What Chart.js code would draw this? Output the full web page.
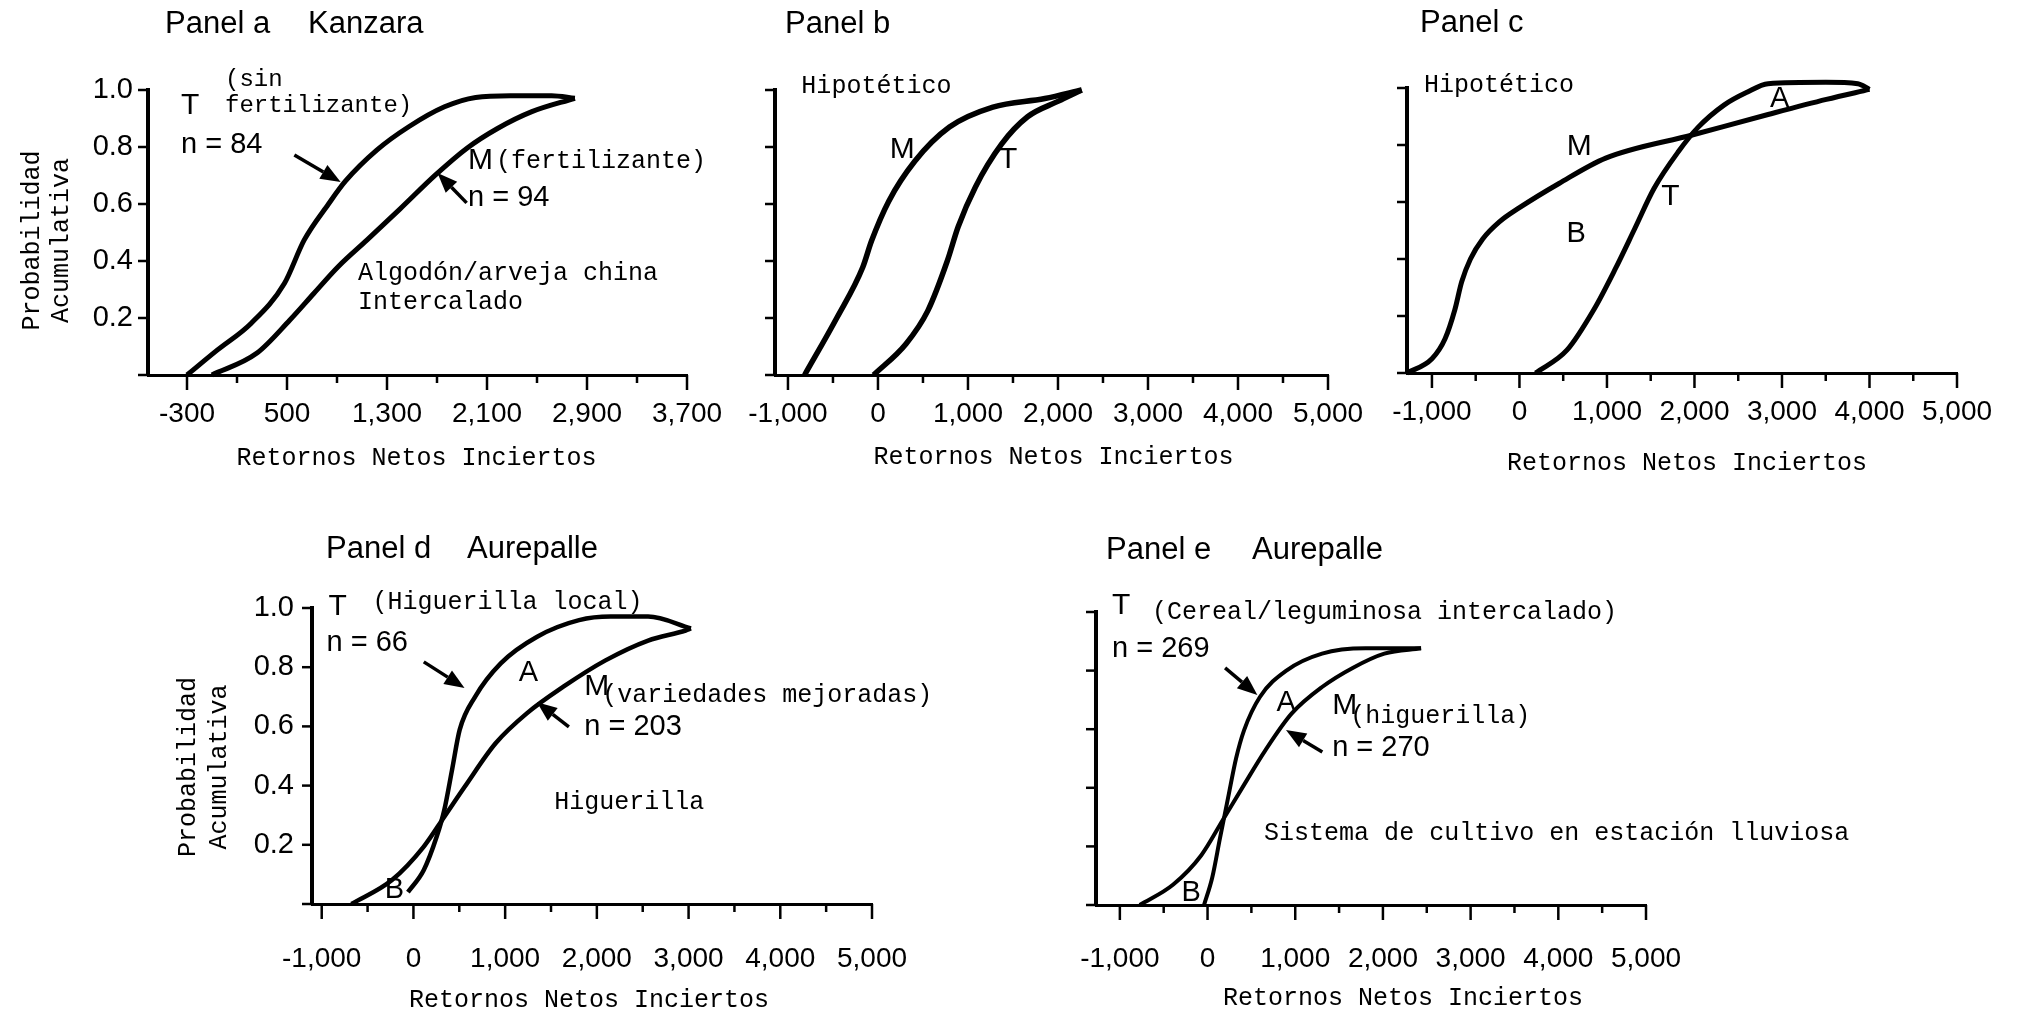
<!DOCTYPE html>
<html><head><meta charset="utf-8">
<script src="https://cdn.jsdelivr.net/npm/chart.js@4.4.1/dist/chart.umd.min.js"></script>
<style>
html,body{margin:0;padding:0;background:#fff;width:2031px;height:1012px;overflow:hidden}
canvas{position:absolute;left:0;top:0}
</style></head><body>
<canvas id="ca" width="2031" height="1012"></canvas>
<canvas id="cb" width="2031" height="1012"></canvas>
<canvas id="cc" width="2031" height="1012"></canvas>
<canvas id="cd" width="2031" height="1012"></canvas>
<canvas id="ce" width="2031" height="1012"></canvas>
<script>
// ---------- DATA ----------
const xAxisTitle = 'Retornos Netos Inciertos';
const yAxisTitle = ['Probabilidad', 'Acumulativa'];

const aXTicks = [-300, 100, 500, 900, 1300, 1700, 2100, 2500, 2900, 3300, 3700];
const aXLabels = ['-300', '', '500', '', '1,300', '', '2,100', '', '2,900', '', '3,700'];
const kXTicks = [-1000, -500, 0, 500, 1000, 1500, 2000, 2500, 3000, 3500, 4000, 4500, 5000];
const kXLabels = ['-1,000', '', '0', '', '1,000', '', '2,000', '', '3,000', '', '4,000', '', '5,000'];
const yTicks = [0, 0.2, 0.4, 0.6, 0.8, 1.0];
const yLabels = ['', '0.2', '0.4', '0.6', '0.8', '1.0'];
const yNoLabels = ['', '', '', '', '', ''];

// Panel a  Kanzara
const aT_x = [-300, -56, 212, 480, 638, 832, 967, 1218, 1474, 1760, 2009, 2287, 2617, 2803];
const aT_p = [0, 0.088, 0.181, 0.322, 0.474, 0.600, 0.680, 0.789, 0.871, 0.941, 0.974, 0.98, 0.98, 0.971];
const aM_x = [-101, 257, 523, 716, 909, 1141, 1403, 1688, 1937, 2184, 2459, 2803];
const aM_p = [0, 0.076, 0.193, 0.287, 0.38, 0.474, 0.582, 0.702, 0.795, 0.865, 0.924, 0.971];
// Panel b  Hipotético
const bM_x = [-815, -458, -169, -72, 120, 409, 794, 1277, 1854, 2264];
const bM_p = [0, 0.20, 0.378, 0.47, 0.61, 0.75, 0.87, 0.94, 0.97, 1.0];
const bT_x = [-49, 313, 553, 770, 891, 1083, 1373, 1662, 1999, 2264];
const bT_p = [0, 0.11, 0.225, 0.40, 0.52, 0.66, 0.81, 0.906, 0.96, 1.0];
// Panel c  Hipotético
const cM_x = [-1285, -1000, -850, -740, -660, -560, -420, -230, 0, 452, 986, 1984, 2841, 3507, 4000];
const cM_p = [0, 0.05, 0.12, 0.22, 0.32, 0.40, 0.47, 0.53, 0.58, 0.665, 0.754, 0.836, 0.907, 0.96, 0.995];
const cT_x = [184, 542, 853, 1095, 1317, 1539, 1817, 2035, 2337, 2600, 2841, 3500, 3867, 4000];
const cT_p = [0, 0.08, 0.224, 0.365, 0.506, 0.648, 0.777, 0.86, 0.94, 0.985, 1.015, 1.02, 1.015, 0.995];
// Panel d  Aurepalle
const dT_x = [-60, 113, 253, 337, 421, 504, 672, 952, 1349, 1806, 2150, 2559, 3026];
const dT_p = [0.04, 0.115, 0.227, 0.318, 0.453, 0.588, 0.70, 0.813, 0.903, 0.959, 0.971, 0.971, 0.931];
const dM_x = [-676, -234, 113, 337, 561, 896, 1236, 1635, 2094, 2559, 2968, 3026];
const dM_p = [0, 0.081, 0.194, 0.295, 0.397, 0.543, 0.644, 0.734, 0.823, 0.89, 0.924, 0.931];
// Panel e  Aurepalle
const eT_x = [-40, 53, 143, 235, 325, 416, 597, 899, 1306, 1802, 2435];
const eT_p = [0, 0.093, 0.23, 0.367, 0.50, 0.596, 0.71, 0.80, 0.858, 0.876, 0.876];
const eM_x = [-773, -391, -71, 174, 416, 657, 958, 1306, 1660, 2016, 2435];
const eM_p = [0, 0.07, 0.17, 0.29, 0.41, 0.527, 0.653, 0.744, 0.81, 0.858, 0.876];

// ---------- RENDERING ----------
const SANS = "'Liberation Sans', Arial, sans-serif";
const MONO = "'Liberation Mono', 'Courier New', monospace";
Chart.defaults.font.family = SANS;
Chart.defaults.color = '#000';
const W = 2031, H = 1012, YW = 80, XH = 95;

const panels = [
  { id: 'ca', area: { l: 148, r: 687, t: 90, b: 375 }, xr: [-612, 3700], xt: aXTicks, xl: aXLabels, yl: yLabels,
    lw: 5, series: [[aT_x, aT_p], [aM_x, aM_p]], xPad: 22, yPad: 15,
    title: [{ text: 'Panel a', dx: 17, dy: -66 }, { text: 'Kanzara', dx: 160, dy: -66 }],
    xTitle: { dx: -1, dy: 83 }, yTitle: { dx: [-116, -87], dy: 8 },
    notes: [
      { text: 'T', x: -348, y: 0.944, size: 30 },
      { text: '(sin', x: 4, y: 1.035, mono: true, size: 24 },
      { text: 'fertilizante)', x: 4, y: 0.944, mono: true, size: 24 },
      { text: 'n = 84', x: -348, y: 0.807, size: 29 },
      { text: 'M', x: 1948, y: 0.751, size: 30 },
      { text: '(fertilizante)', x: 2172, y: 0.751, mono: true, size: 25 },
      { text: 'n = 94', x: 1948, y: 0.621, size: 29 },
      { text: 'Algodón/arveja china', x: 1068, y: 0.358, mono: true, size: 25 },
      { text: 'Intercalado', x: 1068, y: 0.256, mono: true, size: 25 }
    ],
    arrows: [{ from: [559, 0.772], to: [929, 0.677] }, { from: [1937, 0.604], to: [1704, 0.709] }] },
  { id: 'cb', area: { l: 775, r: 1328, t: 90, b: 375 }, xr: [-1144, 5000], xt: kXTicks, xl: kXLabels, yl: yNoLabels,
    lw: 5.5, series: [[bM_x, bM_p], [bT_x, bT_p]], xPad: 22, yPad: 15,
    title: [{ text: 'Panel b', dx: 10, dy: -66 }],
    xTitle: { dx: 2, dy: 82 }, yTitle: null,
    notes: [
      { text: 'Hipotético', x: -851, y: 1.014, mono: true, size: 25 },
      { text: 'M', x: 271, y: 0.789, size: 30, align: 'center' },
      { text: 'T', x: 1447, y: 0.754, size: 30, align: 'center' }
    ], arrows: [] },
  { id: 'cc', area: { l: 1407, r: 1957, t: 88, b: 373 }, xr: [-1285, 5000], xt: kXTicks, xl: kXLabels, yl: yNoLabels,
    lw: 5, series: [[cM_x, cM_p], [cT_x, cT_p]], xPad: 22, yPad: 15,
    title: [{ text: 'Panel c', dx: 13, dy: -65 }],
    xTitle: { dx: 5, dy: 90 }, yTitle: null,
    notes: [
      { text: 'Hipotético', x: -1091, y: 1.01, mono: true, size: 25 },
      { text: 'M', x: 684, y: 0.793, size: 30, align: 'center' },
      { text: 'T', x: 1725, y: 0.618, size: 30, align: 'center' },
      { text: 'B', x: 649, y: 0.488, size: 29, align: 'center' },
      { text: 'A', x: 2973, y: 0.961, size: 29, align: 'center' }
    ], arrows: [] },
  { id: 'cd', area: { l: 312, r: 872, t: 608, b: 904 }, xr: [-1106, 5000], xt: kXTicks, xl: kXLabels, yl: yLabels,
    lw: 4.5, series: [[dT_x, dT_p], [dM_x, dM_p]], xPad: 38, yPad: 18,
    title: [{ text: 'Panel d', dx: 14, dy: -59 }, { text: 'Aurepalle', dx: 155, dy: -59 }],
    xTitle: { dx: -3, dy: 96 }, yTitle: { dx: [-124, -93], dy: 11 },
    notes: [
      { text: 'T', x: -926, y: 1.003, size: 30 },
      { text: '(Higuerilla local)', x: -447, y: 1.02, mono: true, size: 25 },
      { text: 'n = 66', x: -948, y: 0.882, size: 29 },
      { text: 'A', x: 1253, y: 0.78, size: 29, align: 'center' },
      { text: 'M', x: 1863, y: 0.733, size: 30 },
      { text: '(variedades mejoradas)', x: 2059, y: 0.706, mono: true, size: 25 },
      { text: 'n = 203', x: 1863, y: 0.598, size: 29 },
      { text: 'Higuerilla', x: 1536, y: 0.345, mono: true, size: 25 },
      { text: 'B', x: -207, y: 0.047, size: 29, align: 'center' }
    ],
    arrows: [{ from: [113, 0.818], to: [557, 0.73] }, { from: [1695, 0.598], to: [1347, 0.682] }] },
  { id: 'ce', area: { l: 1096, r: 1646, t: 612, b: 905 }, xr: [-1272, 5000], xt: kXTicks, xl: kXLabels, yl: yNoLabels,
    lw: 4, series: [[eT_x, eT_p], [eM_x, eM_p]], xPad: 37, yPad: 15,
    title: [{ text: 'Panel e', dx: 10, dy: -62 }, { text: 'Aurepalle', dx: 156, dy: -62 }],
    xTitle: { dx: 32, dy: 93 }, yTitle: null,
    notes: [
      { text: 'T', x: -1090, y: 1.02, size: 30 },
      { text: '(Cereal/leguminosa intercalado)', x: -633, y: 1.0, mono: true, size: 25 },
      { text: 'n = 269', x: -1090, y: 0.874, size: 29 },
      { text: 'A', x: 896, y: 0.689, size: 29, align: 'center' },
      { text: 'M', x: 1421, y: 0.679, size: 30 },
      { text: '(higuerilla)', x: 1627, y: 0.645, mono: true, size: 25 },
      { text: 'n = 270', x: 1421, y: 0.536, size: 29 },
      { text: 'Sistema de cultivo en estación lluviosa', x: 645, y: 0.246, mono: true, size: 25 },
      { text: 'B', x: -188, y: 0.041, size: 29, align: 'center' }
    ],
    arrows: [{ from: [200, 0.809], to: [568, 0.717] }, { from: [1309, 0.522], to: [895, 0.597] }] }
];

function makeOverlay(spec) {
  return {
    id: 'overlay_' + spec.id,
    afterDraw(chart) {
      const ctx = chart.ctx, xs = chart.scales.x, ys = chart.scales.y, ca = chart.chartArea;
      ctx.save();
      ctx.strokeStyle = '#000'; ctx.fillStyle = '#000';
      ctx.lineWidth = 2.5;
      xs.ticks.forEach((t, i) => {
        const px = xs.getPixelForValue(t.value);
        const len = spec.xl[i] ? 15 : 8;
        ctx.beginPath(); ctx.moveTo(px, ca.bottom); ctx.lineTo(px, ca.bottom + len); ctx.stroke();
      });
      ys.ticks.forEach(t => {
        const py = ys.getPixelForValue(t.value);
        ctx.beginPath(); ctx.moveTo(ca.left, py); ctx.lineTo(ca.left - 10, py); ctx.stroke();
      });
      ctx.textBaseline = 'middle';
      ctx.textAlign = 'left';
      ctx.font = '31px ' + SANS;
      spec.title.forEach(t => ctx.fillText(t.text, ca.left + t.dx, ca.top + t.dy));
      ctx.font = '25px ' + MONO;
      ctx.textAlign = 'center';
      ctx.fillText(xAxisTitle, (ca.left + ca.right) / 2 + spec.xTitle.dx, ca.bottom + spec.xTitle.dy);
      if (spec.yTitle) {
        yAxisTitle.forEach((txt, i) => {
          ctx.save();
          ctx.translate(ca.left + spec.yTitle.dx[i], (ca.top + ca.bottom) / 2 + spec.yTitle.dy);
          ctx.rotate(-Math.PI / 2);
          ctx.fillText(txt, 0, 0);
          ctx.restore();
        });
      }
      spec.notes.forEach(n => {
        ctx.font = n.size + 'px ' + (n.mono ? MONO : SANS);
        ctx.textAlign = n.align || 'left';
        ctx.fillText(n.text, xs.getPixelForValue(n.x), ys.getPixelForValue(n.y));
      });
      spec.arrows.forEach(a => {
        const x1 = xs.getPixelForValue(a.from[0]), y1 = ys.getPixelForValue(a.from[1]);
        const x2 = xs.getPixelForValue(a.to[0]), y2 = ys.getPixelForValue(a.to[1]);
        const ang = Math.atan2(y2 - y1, x2 - x1);
        const hl = 20, hw = 8;
        const bx = x2 - hl * Math.cos(ang), by = y2 - hl * Math.sin(ang);
        ctx.lineWidth = 3.5;
        ctx.beginPath(); ctx.moveTo(x1, y1); ctx.lineTo(bx, by); ctx.stroke();
        ctx.beginPath(); ctx.moveTo(x2, y2);
        ctx.lineTo(bx - hw * Math.sin(ang), by + hw * Math.cos(ang));
        ctx.lineTo(bx + hw * Math.sin(ang), by - hw * Math.cos(ang));
        ctx.closePath(); ctx.fill();
      });
      ctx.restore();
    }
  };
}

panels.forEach(spec => {
  const datasets = spec.series.map(([xsArr, psArr]) => ({
    data: xsArr.map((x, i) => ({ x: x, y: psArr[i] })),
    borderColor: '#000', borderWidth: spec.lw, pointRadius: 0,
    cubicInterpolationMode: 'monotone', fill: false, clip: false
  }));
  new Chart(document.getElementById(spec.id), {
    type: 'line',
    data: { datasets },
    options: {
      responsive: false, animation: false, events: [], devicePixelRatio: 1,
      layout: { padding: { left: spec.area.l - YW, right: W - spec.area.r, top: spec.area.t, bottom: H - spec.area.b - XH } },
      plugins: { legend: { display: false }, tooltip: { enabled: false }, title: { display: false } },
      scales: {
        x: {
          type: 'linear', min: spec.xr[0], max: spec.xr[1],
          afterBuildTicks: s => { s.ticks = spec.xt.map(v => ({ value: v })); },
          afterFit: s => { s.height = XH; },
          ticks: { autoSkip: false, maxRotation: 0, minRotation: 0, padding: spec.xPad, color: '#000',
                   font: { size: 28, family: SANS }, callback: (v, i) => spec.xl[i] },
          grid: { display: false, drawTicks: false },
          border: { display: true, color: '#000', width: 3 }
        },
        y: {
          type: 'linear', min: 0, max: 1,
          afterBuildTicks: s => { s.ticks = yTicks.map(v => ({ value: v })); },
          afterFit: s => { s.width = YW; },
          ticks: { padding: spec.yPad, color: '#000', font: { size: 29, family: SANS }, callback: (v, i) => spec.yl[i] },
          grid: { display: false, drawTicks: false },
          border: { display: true, color: '#000', width: 4 }
        }
      }
    },
    plugins: [makeOverlay(spec)]
  });
});
</script>
</body></html>
